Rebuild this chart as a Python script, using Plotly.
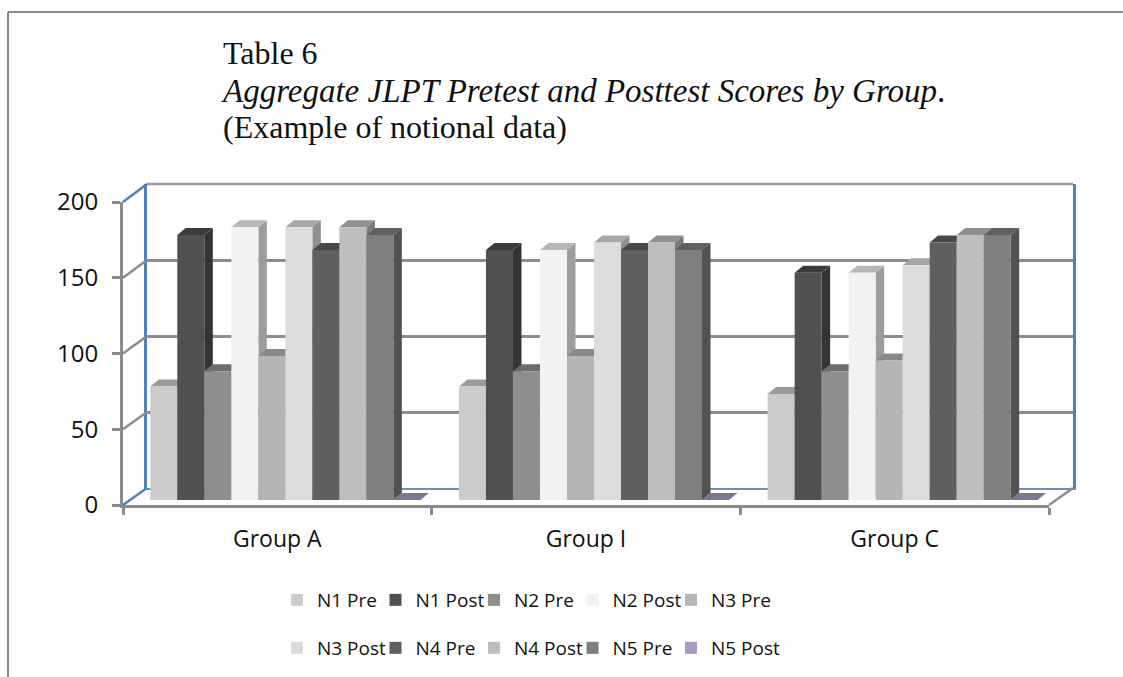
import plotly.graph_objects as go

W, H = 1123, 677
groups = ["Group A", "Group I", "Group C"]
series = ["N1 Pre", "N1 Post", "N2 Pre", "N2 Post", "N3 Pre",
          "N3 Post", "N4 Pre", "N4 Post", "N5 Pre", "N5 Post"]
n1_pre = [75, 75, 70]
n1_post = [175, 165, 150]
n2_pre = [85, 85, 85]
n2_post = [180, 165, 150]
n3_pre = [95, 95, 92]
n3_post = [180, 170, 155]
n4_pre = [165, 165, 170]
n4_post = [180, 170, 175]
n5_pre = [175, 165, 175]
n5_post = [0, 0, 0]
values = [n1_pre, n1_post, n2_pre, n2_post, n3_pre, n3_post, n4_pre, n4_post, n5_pre, n5_post]
front = ["#cbcbcb", "#505050", "#8f8f8f", "#f2f2f2", "#b5b5b5",
         "#dcdcdc", "#606060", "#bebebe", "#7f7f7f", "#a99bc0"]
y_ticks = [0, 50, 100, 150, 200]

GRAY = "#8c8c8c"
BLUE = "#4f81bd"
SANS = "Open Sans, Noto Sans, sans-serif"
INK = "#111111"

# planes, in pixels from top-left of the page: left, right, y of 0, y of 200
FRONT = (123, 1049, 505, 202)
BACK = (147, 1073, 488, 184)
BARS = (131, 1057, 500, 197)
BAR_DX, BAR_DY = 8.5, 7  # depth of a bar in pixels

def xdom(p):
    return [p[0] / W, p[1] / W]

def ydom(p):
    return [1 - p[2] / H, 1 - p[3] / H]

def px(x):
    return x / W

def py(y):
    return 1 - y / H

def shade(col, k):
    r, g, b = (int(col[i:i + 2], 16) for i in (1, 3, 5))
    return f"rgb({int(r * k)},{int(g * k)},{int(b * k)})"

fig = go.Figure()

# back wall
fig.add_trace(go.Scatter(x=[None], y=[None], xaxis="x", yaxis="y", showlegend=False, hoverinfo="skip"))

# bar depth faces, drawn under the fronts
gap = 0.125
bw = (1 - gap) / len(series)
ux = (BARS[1] - BARS[0]) / 3
uy = (BARS[2] - BARS[3]) / 200
ddx, ddy = BAR_DX / ux, BAR_DY / uy
for s, name in enumerate(series):
    for g in range(3):
        v = values[s][g]
        l = g + (s - 5) * bw
        r = l + bw
        fig.add_trace(go.Scatter(
            x=[r, r + ddx, r + ddx, r, r], y=[0, ddy, v + ddy, v, 0],
            mode="lines", line=dict(width=0), fill="toself", fillcolor=shade(front[s], 0.65),
            xaxis="x2", yaxis="y2", showlegend=False, hoverinfo="skip"))
        fig.add_trace(go.Scatter(
            x=[l, l + ddx, r + ddx, r, l], y=[v, v + ddy, v + ddy, v, v],
            mode="lines", line=dict(width=0), fill="toself", fillcolor=shade(front[s], 0.76),
            xaxis="x2", yaxis="y2", showlegend=False, hoverinfo="skip"))

# bar fronts
for s, name in enumerate(series):
    fig.add_trace(go.Bar(
        x=[0, 1, 2], y=values[s], name=name, marker=dict(color=front[s], line=dict(width=0)),
        xaxis="x3", yaxis="y3", legend="legend" if s < 5 else "legend2"))

# front frame and the axis that carries the group labels
fig.add_trace(go.Scatter(x=[None], y=[None], xaxis="x4", yaxis="y4", showlegend=False, hoverinfo="skip"))
fig.add_trace(go.Scatter(x=[None], y=[None], xaxis="x5", yaxis="y4", showlegend=False, hoverinfo="skip"))

# blank legend entries on another subplot: they only keep the last label of each row from being cut off
for leg in ("legend", "legend2"):
    fig.add_trace(go.Bar(x=[None], y=[None], name=" ",
                         marker=dict(color="rgba(255,255,255,0)", line=dict(width=0)),
                         xaxis="x4", yaxis="y4", legend=leg, hoverinfo="skip"))

legend_font = dict(family=SANS, size=19, color=INK)

hidden = dict(visible=False, fixedrange=True)
shapes = [
    dict(type="line", xref="paper", yref="paper", x0=px(8), x1=px(1123), y0=py(12), y1=py(12),
         line=dict(color="#888888", width=2)),
    dict(type="line", xref="paper", yref="paper", x0=px(8), x1=px(8), y0=py(12), y1=0,
         line=dict(color="#888888", width=2)),
    dict(type="line", xref="paper", yref="paper", x0=px(BACK[0]), x1=px(BACK[1]), y0=py(BACK[3]), y1=py(BACK[3]),
         line=dict(color="#9a9a9a", width=2.5)),
]
for t in y_ticks:
    yf = FRONT[2] + (FRONT[3] - FRONT[2]) * t / 200
    yb = BACK[2] + (BACK[3] - BACK[2]) * t / 200
    shapes.append(dict(type="line", xref="paper", yref="paper", x0=px(FRONT[0]), x1=px(BACK[0]),
                       y0=py(yf), y1=py(yb),
                       line=dict(color=BLUE if t in (0, 200) else GRAY, width=2.5)))
shapes.append(dict(type="line", xref="paper", yref="paper", x0=px(FRONT[1]), x1=px(BACK[1]),
                   y0=py(FRONT[2]), y1=py(BACK[2]), line=dict(color=GRAY, width=2.5)))

roman = dict(family="Liberation Serif, serif", size=32, color=INK)
italic = dict(family="Liberation Serif, serif", size=33, color=INK)
annotations = [
    dict(text="Table 6", x=px(223), y=py(53), xref="paper", yref="paper", xanchor="left", yanchor="middle",
         showarrow=False, font=roman, xshift=-2),
    dict(text="<i>Aggregate JLPT Pretest and Posttest Scores by Group</i>.", x=px(223), y=py(91), xref="paper",
         yref="paper", xanchor="left", yanchor="middle", showarrow=False, font=italic, xshift=-4),
    dict(text="(Example of notional data)", x=px(223), y=py(127), xref="paper", yref="paper", xanchor="left",
         yanchor="middle", showarrow=False, font=roman, xshift=-2),
]

def legend_at(y):
    return dict(orientation="h", x=px(277), xanchor="left", y=py(y), yanchor="middle",
                entrywidth=53.5, entrywidthmode="pixels", font=legend_font, bgcolor="rgba(0,0,0,0)",
                traceorder="normal")

fig.update_layout(
    width=W, height=H, autosize=False,
    margin=dict(l=0, r=0, t=0, b=0, autoexpand=False),
    paper_bgcolor="white", plot_bgcolor="rgba(0,0,0,0)",
    barmode="group", bargap=gap, bargroupgap=0,
    showlegend=True,
    legend=legend_at(600), legend2=legend_at(648),
    shapes=shapes, annotations=annotations,
    font=legend_font,
    # back wall
    xaxis=dict(domain=xdom(BACK), range=[0, 1], showgrid=False, zeroline=False, showticklabels=False,
               ticks="", showline=True, linecolor="#6f8fb5", linewidth=2, anchor="y", fixedrange=True),
    yaxis=dict(domain=ydom(BACK), range=[0, 200], tickvals=y_ticks, showgrid=True, gridcolor=GRAY, gridwidth=3,
               zeroline=False, showticklabels=False, ticks="", showline=True, linecolor=BLUE, linewidth=3,
               mirror=True, anchor="x", fixedrange=True),
    # depth faces
    xaxis2=dict(domain=xdom(BARS), range=[-0.5, 2.5], anchor="y2", **hidden),
    yaxis2=dict(domain=ydom(BARS), range=[0, 200], anchor="x2", **hidden),
    # bar fronts
    xaxis3=dict(domain=xdom(BARS), range=[-0.5, 2.5], anchor="y3", **hidden),
    yaxis3=dict(domain=ydom(BARS), range=[0, 200], anchor="x3", **hidden),
    # front frame, with value labels
    xaxis4=dict(domain=xdom(FRONT), range=[-0.5, 2.5], tickvals=[-0.5, 0.5, 1.5, 2.5], showticklabels=False,
                ticks="outside", ticklen=7, tickwidth=2.5, tickcolor=GRAY, showgrid=False, zeroline=False,
                showline=True, linecolor=GRAY, linewidth=3, anchor="y4", fixedrange=True),
    yaxis4=dict(domain=ydom(FRONT), range=[0, 200], tickvals=y_ticks, ticks="outside", ticklen=8, tickwidth=2.5,
                tickcolor=GRAY, showgrid=False, zeroline=False, showline=True, linecolor=GRAY, linewidth=3,
                ticklabelstandoff=9, tickfont=dict(family=SANS, size=24, color=INK),
                anchor="x4", fixedrange=True),
    # group labels, centred on the front floor
    xaxis5=dict(domain=xdom(FRONT), range=[-0.5, 2.5], tickvals=[0, 1, 2], ticktext=groups, ticks="",
                showgrid=False, zeroline=False, showline=False, anchor="y4", ticklabelstandoff=18,
                tickfont=dict(family=SANS, size=23, color=INK), fixedrange=True),
)

fig.write_html("out.html", config=dict(displayModeBar=False),
               post_script="document.body.style.margin='0';document.body.style.overflow='hidden';")
